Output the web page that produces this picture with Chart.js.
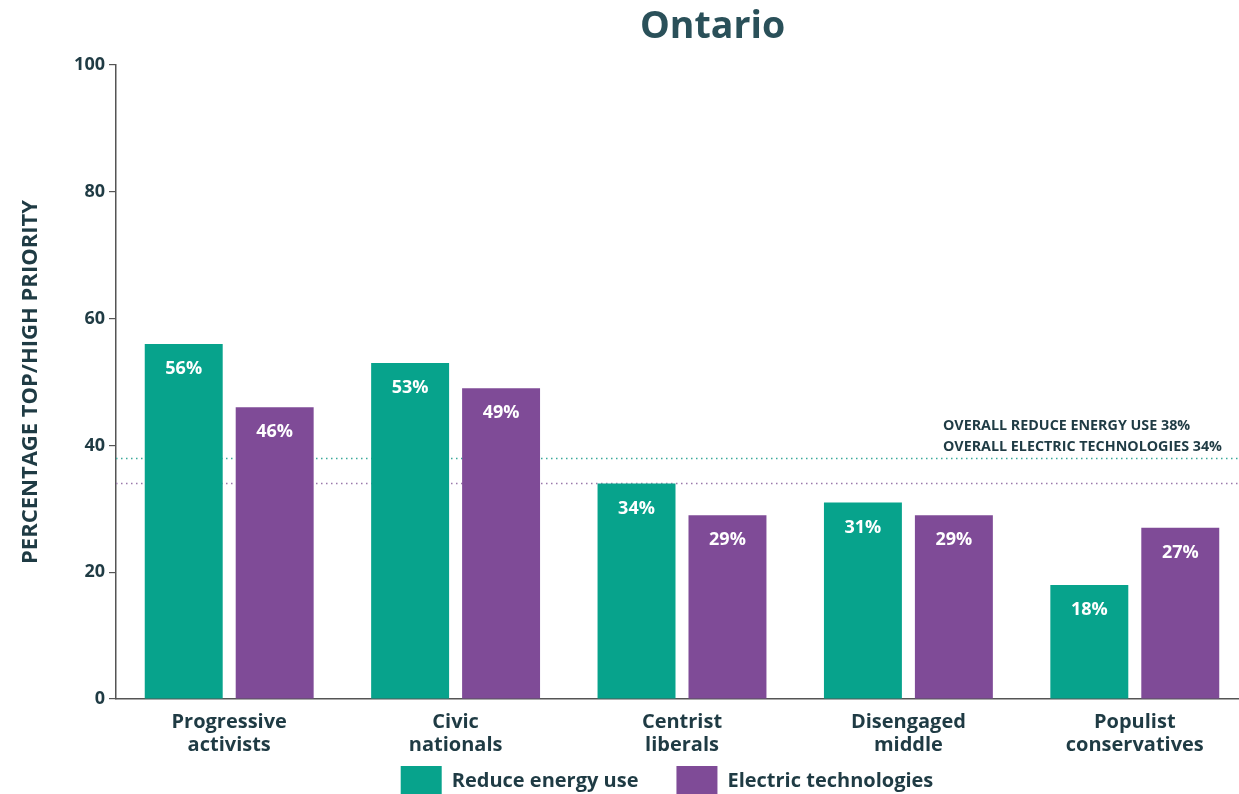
<!DOCTYPE html>
<html>
<head>
<meta charset="utf-8">
<title>Ontario</title>
<script src="https://cdn.jsdelivr.net/npm/chart.js@4.4.1/dist/chart.umd.min.js"></script>
<style>
  html, body { margin: 0; padding: 0; background: #fff; overflow: hidden; }
  canvas { display: block; }
</style>
</head>
<body>
<canvas id="grafico" width="1248" height="835"></canvas>
<script>
"use strict";

const segmenti = [
  ["Progressive", "activists"],
  ["Civic", "nationals"],
  ["Centrist", "liberals"],
  ["Disengaged", "middle"],
  ["Populist", "conservatives"]
];
const riduzioneEnergia = [56, 53, 34, 31, 18];
const tecnologieElettriche = [46, 49, 29, 29, 27];
const valoriAsseY = [0, 20, 40, 60, 80, 100];
const mediaRiduzione = 38;
const mediaElettriche = 34;

const VERDE = "#07a38c";
const VIOLA = "#7f4b97";
const TESTO = "#1f3b44";
const FONT = "'Open Sans', sans-serif";

// titolo sopra l'area del grafico
const pluginTitolo = {
  id: "titolo",
  afterDraw(chart) {
    const c = chart.ctx, a = chart.chartArea;
    c.save();
    c.font = "bold 37.5px " + FONT;
    c.fillStyle = "#2a5059";
    c.textAlign = "center";
    c.textBaseline = "middle";
    c.fillText("Ontario", a.left + (a.right - a.left) * 0.527, 27);
    c.restore();
  }
};

// linee tratteggiate delle medie, dietro alle barre
const pluginMedie = {
  id: "medie",
  beforeDatasetsDraw(chart) {
    const c = chart.ctx, a = chart.chartArea, y = chart.scales.y;
    const righe = [[mediaRiduzione, "#3aa99a"], [mediaElettriche, "#9a78aa"]];
    c.save();
    c.lineWidth = 1.5;
    c.setLineDash([1.5, 3.5]);
    righe.forEach(([v, col]) => {
      const py = Math.round(y.getPixelForValue(v)) + 0.5;
      c.strokeStyle = col;
      c.beginPath();
      c.moveTo(a.left, py);
      c.lineTo(a.right, py);
      c.stroke();
    });
    c.setLineDash([]);
    const t1 = "OVERALL REDUCE ENERGY USE " + mediaRiduzione + "%";
    const t2 = "OVERALL ELECTRIC TECHNOLOGIES " + mediaElettriche + "%";
    c.font = "bold 14.3px " + FONT;
    c.fillStyle = TESTO;
    c.textBaseline = "middle";
    const x = a.right - 26 - c.measureText(t2).width;
    const base = y.getPixelForValue(mediaRiduzione);
    c.fillText(t1, x, base - 32);
    c.fillText(t2, x, base - 11);
    c.restore();
  }
};

// percentuali bianche dentro le barre
const pluginEtichette = {
  id: "etichette",
  afterDatasetsDraw(chart) {
    const c = chart.ctx;
    c.save();
    c.font = "bold 18px " + FONT;
    c.fillStyle = "#ffffff";
    c.textAlign = "center";
    c.textBaseline = "middle";
    chart.data.datasets.forEach((ds, i) => {
      chart.getDatasetMeta(i).data.forEach((bar, j) => {
        c.fillText(ds.data[j] + "%", bar.x, bar.y + 25);
      });
    });
    c.restore();
  }
};

// legenda sotto le etichette dell'asse x
const pluginLegenda = {
  id: "spostaLegenda",
  afterLayout(chart) {
    const l = chart.legend;
    const h = l.bottom - l.top;
    l.top = 728;
    l.bottom = l.top + h;
    l.left += 53;
    l.right += 33;
  }
};

new Chart(document.getElementById("grafico"), {
  type: "bar",
  data: {
    labels: segmenti,
    datasets: [
      { label: "Reduce energy use", data: riduzioneEnergia, backgroundColor: VERDE },
      { label: "Electric technologies", data: tecnologieElettriche, backgroundColor: VIOLA }
    ]
  },
  options: {
    responsive: false,
    animation: false,
    events: [],
    layout: { padding: { top: 65, left: 0, right: 0, bottom: 0 } },
    datasets: { bar: { categoryPercentage: 0.8035, barPercentage: 0.857 } },
    scales: {
      x: {
        afterFit(s) { s.height = 58; },
        grid: { display: false, drawTicks: false },
        border: { display: true, color: "#555", width: 1.5 },
        ticks: { color: TESTO, padding: 12, font: { family: FONT, size: 20, weight: "bold", lineHeight: 1.15 } }
      },
      y: {
        min: 0,
        max: 100,
        afterFit(s) { s.width = 116; },
        afterBuildTicks(s) { s.ticks = valoriAsseY.map(v => ({ value: v })); },
        grid: { drawOnChartArea: false, tickLength: 7, color: "#555", lineWidth: 1.2 },
        border: { display: true, color: "#555", width: 1.5 },
        ticks: { color: TESTO, padding: 4, font: { family: FONT, size: 18, weight: "bold" } },
        title: {
          display: true,
          text: "PERCENTAGE TOP/HIGH PRIORITY",
          color: TESTO,
          padding: { top: 18, bottom: 0 },
          font: { family: FONT, size: 22, weight: "bold" }
        }
      }
    },
    plugins: {
      title: { display: false },
      tooltip: { enabled: false },
      legend: {
        position: "bottom",
        labels: {
          boxWidth: 41,
          boxHeight: 30,
          padding: 38,
          color: TESTO,
          font: { family: FONT, size: 20, weight: "bold" }
        }
      }
    }
  },
  plugins: [pluginTitolo, pluginMedie, pluginEtichette, pluginLegenda]
});
</script>
</body>
</html>
